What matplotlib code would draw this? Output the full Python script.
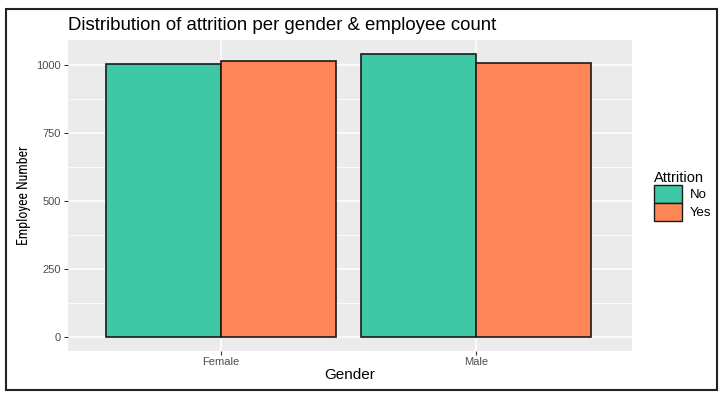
import matplotlib
matplotlib.use("Agg")
import matplotlib.pyplot as plt
from matplotlib.patches import Rectangle, Patch
import numpy as np

plt.rcParams['font.family'] = ['Liberation Sans', 'DejaVu Sans']

genders = ["Female", "Male"]
attrition = ["No", "Yes"]
counts_no = [1004, 1040]
counts_yes = [1015, 1006]
colors = ["#3EC8A5", "#FF8656"]
yticks = [0, 250, 500, 750, 1000]
yminor = [125, 375, 625, 875]

W, H = 720, 397
fig = plt.figure(figsize=(W/100, H/100), dpi=100)
fig.patch.set_facecolor("white")
ax = fig.add_axes([68/W, 1-351/H, (632-68)/W, (351-40)/H])
ax.set_facecolor("#EBEBEB")

x = np.arange(1, len(genders)+1)
bw = 0.45
ax.bar(x - bw/2, counts_no, width=bw, color=colors[0], edgecolor="#1a1a1a", linewidth=1.2, zorder=3)
ax.bar(x + bw/2, counts_yes, width=bw, color=colors[1], edgecolor="#1a1a1a", linewidth=1.2, zorder=3)

ax.set_xticks(x)
ax.set_xticklabels(genders)
ax.set_yticks(yticks)
ax.set_yticks(yminor, minor=True)
ax.set_xlim(0.4, 2.61)
ax.set_ylim(-52, 1092)
ax.grid(True, which="major", color="white", linewidth=1.1, zorder=0)
ax.grid(True, which="minor", axis="y", color="white", linewidth=0.55, zorder=0)
ax.tick_params(which="minor", length=0)
ax.tick_params(which="major", length=3, color="#333333", labelcolor="#4D4D4D", labelsize=8, pad=2)
ax.tick_params(axis="x", pad=1)
for s in ax.spines.values():
    s.set_visible(False)

ax.set_xlabel("Gender", fontsize=11, color="black", labelpad=1)
ax.set_ylabel("Employee Number", fontsize=10, color="black", labelpad=4,
              family=["Roboto Condensed", "Liberation Sans", "DejaVu Sans"])
fig.text(68/W, 1-26/H, "Distribution of attrition per gender & employee count", fontsize=13.4, ha="left", va="center")

handles = [Patch(facecolor=colors[0], edgecolor="#1a1a1a", linewidth=1.0, label=attrition[0]),
           Patch(facecolor=colors[1], edgecolor="#1a1a1a", linewidth=1.0, label=attrition[1])]
leg = fig.legend(handles=handles, title="Attrition", loc="center left", bbox_to_anchor=(645/W, 1-196/H),
                 frameon=False, fontsize=9.5, title_fontsize=10.5, handlelength=2.1, handleheight=1.7,
                 handletextpad=0.6, labelspacing=0.0, borderpad=0.2)
leg._legend_box.align = "left"

fig.patches.append(Rectangle((6/W, 1-390/H), (717-6)/W, (390-9)/H, transform=fig.transFigure,
                             fill=False, edgecolor="#222222", linewidth=1.5))
fig.savefig("out.png", dpi=100)
